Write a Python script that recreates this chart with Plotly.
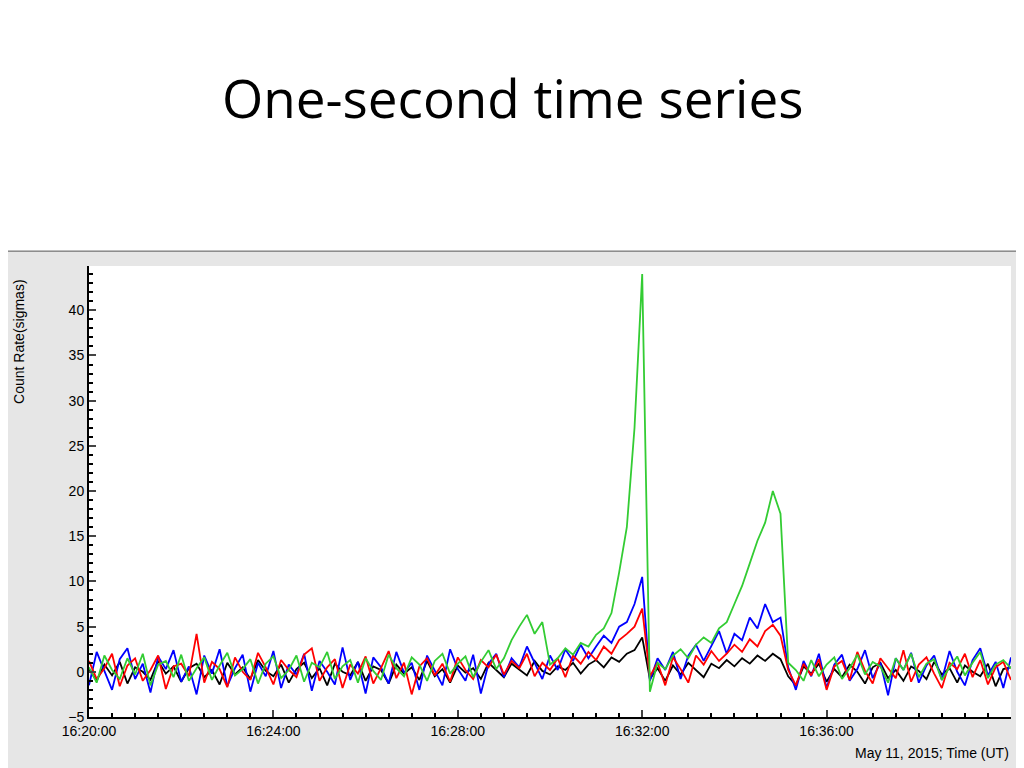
import plotly.graph_objects as go
import pandas as pd

# 10-second samples from 16:20:00 to 16:40:00 (121 points)
times = pd.date_range("2015-05-11 16:20:00", "2015-05-11 16:40:00", freq="10s")

green = [0.5, -1.2, 1.8, 0.2, -0.8, 1.5, -0.3, 2.0, -1.5, 0.8, 1.2, -0.6,
         1.9, -1.0, 0.4, 1.6, -0.9, 0.7, 2.1, -0.4, 0.3, 1.4, -1.3, 0.9,
         1.7, -0.7, 0.2, 1.8, -1.1, 1.0, 0.5, 2.2, -0.8, 0.6, 1.3, -1.2,
         1.5, 0.1, -0.9, 1.9, 0.4, -0.5, 1.6, 0.8, -1.0, 1.2, 2.0, -0.2,
         0.9, 1.7, -0.6, 1.1, 2.4, 0.3, 1.5,
         3.5, 5.0, 6.3, 4.2, 5.5, 0.8,
         1.5, 2.6, 1.9, 3.2, 2.8, 4.1, 4.8, 6.5, 11.0, 16.0, 27.0, 44.0,
         -2.2, 1.0, 0.3, 1.8, 2.5, 1.5, 3.0, 3.8, 3.2, 4.8, 5.5, 7.5,
         9.5, 12.0, 14.5, 16.5, 20.0, 17.5, 1.0,
         0.2, -1.0, 1.3, -0.5, 0.8, 1.6, -0.8, 0.4, 1.9, -0.3, 1.1, 0.6,
         -1.2, 1.5, 0.2, 2.0, -0.6, 0.9, 1.4, -0.9, 0.5, 1.7, -0.4, 1.0,
         2.2, -0.7, 0.8, 1.3, 0.4]

blue = [-1.5, 2.2, 0.1, -2.0, 1.4, 2.6, -0.8, 0.9, -2.3, 1.7, 0.3, 2.4,
        -1.1, 0.6, -2.5, 1.8, -0.2, 2.5, -1.6, 0.4, 1.9, -2.2, 1.0, -0.5,
        2.3, -1.8, 0.8, -0.3, 2.0, -2.1, 1.2, 0.0, -1.4, 2.7, -0.9, 1.1,
        -2.4, 1.6, 0.5, -1.3, 2.2, -0.1, 1.0, -2.0, 1.8, 0.2, -1.5, 2.5,
        0.3, -1.0, 1.9, -2.4, 0.9, 2.0, -0.6, 1.5, 0.5, 2.8, 1.0, -0.8,
        1.8, 0.2, 2.5, 1.2, 3.0, 1.5, 2.8, 4.0, 3.2, 5.0, 5.5, 7.5, 10.5,
        -1.0, 1.5, 0.2, 2.2, -0.8, 1.8, 3.0, 1.2, 2.8, 4.5, 2.0, 4.2,
        3.5, 6.0, 4.8, 7.5, 5.5, 6.0,
        0.5, -2.0, 1.2, -0.5, 2.0, -1.8, 0.8, 1.9, -1.0, 0.3, 2.4, -0.7,
        1.0, -2.6, 1.5, 0.2, 2.1, -1.2, 0.7, 1.8, -0.9, 2.3, 0.0, -1.5,
        1.3, 2.6, -0.4, 1.1, -1.8, 1.6]

red = [1.2, -0.8, 0.4, 2.0, -1.6, 0.7, 1.5, -1.0, 0.2, 1.8, -1.9, 0.6,
       0.9, -0.5, 4.2, -1.2, 1.1, 0.3, -1.7, 1.6, 0.0, -0.9, 2.1, 0.5,
       -1.4, 1.3, 0.2, -0.6, 1.9, 2.6, -1.0, 0.5, 1.4, -1.8, 0.8, -0.2,
       1.7, -1.3, 0.4, 2.3, -0.7, 1.0, -2.5, 0.6, 1.5, -0.4, 0.9, -1.1,
       1.6, 0.2, -0.8, 1.3, 0.5, 1.9, -0.3, 1.2, 0.4, 2.0, -0.5, 1.0,
       0.2, 1.5, -0.6, 1.8, 0.9, 2.2, 1.3, 2.8, 2.0, 3.5, 4.2, 5.0, 7.0,
       -0.5, 1.0, -1.5, 1.6, 0.3, -1.2, 1.8, 0.8, 2.3, 1.2, 2.0, 3.0,
       2.2, 3.6, 2.8, 4.5, 5.2, 4.0,
       0.2, -1.5, 0.9, -0.4, 1.4, -2.0, 0.6, 1.2, -0.9, 2.2, 0.1, -1.3,
       1.5, 0.4, -0.7, 2.4, -1.1, 0.8, 1.6, -0.2, -1.8, 1.0, 0.3, 2.0,
       -0.6, 1.3, -1.4, 0.5, 1.1, -0.9]

black = [0.3, -1.0, 0.8, -0.4, 1.1, -1.3, 0.5, 0.0, -0.9, 1.2, -0.2, 0.6,
         -1.1, 0.4, 0.9, -0.6, 0.2, -1.4, 1.0, -0.3, 0.5, -0.8, 1.3, 0.1,
         -0.5, 0.8, -1.2, 0.3, 1.0, -0.7, 0.4, -1.5, 0.9, 0.0, -0.4, 1.1,
         -1.0, 0.6, 0.2, -1.3, 0.8, -0.2, 0.5, -0.9, 1.2, -0.5, 0.3, -1.2,
         0.7, -0.1, 0.4, -0.8, 1.0, 0.2, -0.6, 0.9, 0.3, -0.4, 1.2, 0.1,
         -0.3, 0.6, 0.2, 1.0, -0.2, 0.8, 1.3, 0.5, 1.6, 1.1, 2.0, 2.4, 3.8,
         -0.8, 0.4, -1.0, 0.7, -0.3, 1.0, 0.2, -0.6, 0.9, 0.4, 1.3, 0.6,
         1.5, 0.9, 1.8, 1.2, 2.0, 1.4,
         -0.5, -1.5, 0.6, -0.2, 0.9, -1.1, 0.3, -0.6, 0.8, 0.0, -1.3, 0.5,
         1.0, -0.7, 0.2, -1.0, 0.6, 0.1, -0.8, 1.1, -0.3, 0.4, -1.2, 0.7,
         0.0, -0.5, 0.9, -1.6, 0.3, 0.5]

series = [("black", black, "#000000"), ("blue", blue, "#0000ff"),
          ("red", red, "#ff0000"), ("green", green, "#33cc33")]

fig = go.Figure()
for name, vals, col in series:
    fig.add_trace(go.Scatter(x=times, y=vals, mode="lines", name=name,
                             line=dict(color=col, width=1.8)))

# grey frame and white plot area
fig.add_shape(type="rect", xref="paper", yref="paper", x0=-0.0954, x1=1.04,
              y0=-0.115, y1=1.033, fillcolor="#e6e6e6",
              line=dict(color="#555555", width=1), layer="below")
fig.add_shape(type="rect", xref="paper", yref="paper", x0=0, x1=1, y0=0, y1=1,
              fillcolor="white", line=dict(width=0), layer="below")

# page is offset ~7px by the body margin, so margins compensate
fig.update_layout(
    width=1024, height=768,
    margin=dict(l=81, r=21, t=258, b=59),
    paper_bgcolor="white", plot_bgcolor="rgba(0,0,0,0)",
    showlegend=False,
    font=dict(family="Liberation Sans, Arial", size=14, color="black"),
)
fig.update_xaxes(
    range=["2015-05-11 16:20:00", "2015-05-11 16:40:00"],
    tickformat="%H:%M:%S", dtick=240000, tick0="2015-05-11 16:20:00",
    ticks="inside", ticklen=7, tickwidth=2, showgrid=False, zeroline=False,
    showline=True, linecolor="black", linewidth=2,
    minor=dict(dtick=30000, ticks="inside", ticklen=4, tickcolor="black"),
)
fig.update_yaxes(
    range=[-5, 44.9], dtick=5, ticks="inside", ticklen=7, tickwidth=2,
    showgrid=False, zeroline=False, showline=True, linecolor="black",
    linewidth=2, minor=dict(dtick=1, ticks="inside", ticklen=4, tickcolor="black"),
)

fig.add_annotation(text="One-second time series", xref="paper", yref="paper",
                   x=0.459, y=(716 - 97) / 451, xanchor="center", yanchor="middle",
                   showarrow=False, font=dict(family="Open Sans", size=53, color="black"))
fig.add_annotation(text="Count Rate(sigmas)", xref="paper", yref="paper",
                   x=-0.076, y=1.0 - (340 - 265) / 451, textangle=-90,
                   xanchor="center", yanchor="middle", showarrow=False,
                   font=dict(size=14))
fig.add_annotation(text="May 11, 2015; Time (UT)", xref="paper", yref="paper",
                   x=1.0, y=-(752 - 716) / 451, xanchor="right", yanchor="middle",
                   showarrow=False, font=dict(size=14))

fig.write_html("out.html")
